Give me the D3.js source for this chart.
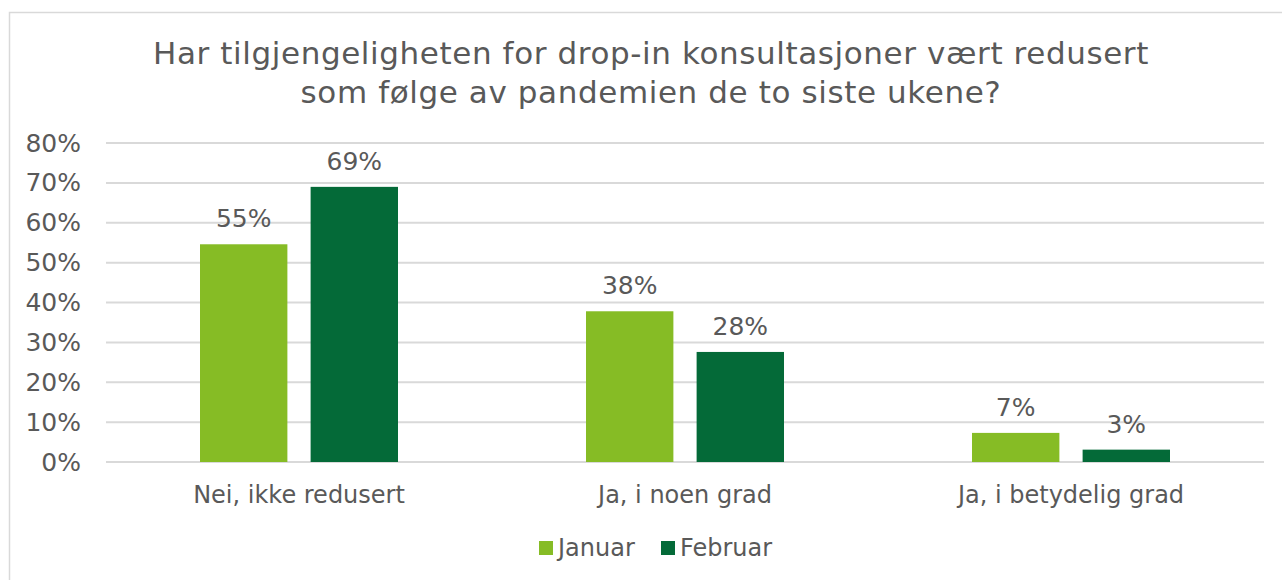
<!DOCTYPE html>
<html>
<head>
<meta charset="utf-8">
<script src="https://cdn.jsdelivr.net/npm/d3@7"></script>
<style>
  body { margin: 0; background: #fff; }
  svg text { font-family: "DejaVu Sans", Verdana, sans-serif; fill: #595959; }
</style>
</head>
<body>
<div id="chart"></div>
<script>
// values
const categories = ["Nei, ikke redusert", "Ja, i noen grad", "Ja, i betydelig grad"];
const seriesNames = ["Januar", "Februar"];
const januar = [54.6, 37.8, 7.3];
const februar = [69.0, 27.6, 3.1];
const labelsJan = ["55%", "38%", "7%"];
const labelsFeb = ["69%", "28%", "3%"];
const yTicks = [0, 10, 20, 30, 40, 50, 60, 70, 80];
const colors = ["#86bc25", "#046a38"];

const W = 1282, H = 580;
const margin = { top: 143, left: 106, right: 18, bottom: 118 };
const width = W - margin.left - margin.right;
const height = H - margin.top - margin.bottom;

const svg = d3.select("#chart").append("svg")
  .attr("width", W)
  .attr("height", H);

// outer chart border (runs off the right and bottom edge)
svg.append("rect")
  .attr("x", 9.5).attr("y", 12.5)
  .attr("width", 1300).attr("height", 600)
  .attr("fill", "none")
  .attr("stroke", "#d9d9d9")
  .attr("stroke-width", 1.5);

// title
const title = svg.append("text")
  .attr("text-anchor", "middle")
  .style("font-size", "31px")
  .style("letter-spacing", "0.6px");
title.append("tspan").attr("x", 651).attr("y", 64)
  .text("Har tilgjengeligheten for drop-in konsultasjoner vært redusert");
title.append("tspan").attr("x", 651).attr("y", 103)
  .text("som følge av pandemien de to siste ukene?");

const g = svg.append("g")
  .attr("transform", `translate(${margin.left}, ${margin.top})`);

const y = d3.scaleLinear().domain([0, 80]).range([height, 0]);
const x0 = d3.scaleBand().domain(categories).range([0, width]);
const x1 = d3.scaleBand().domain(seriesNames)
  .range([x0.bandwidth() / 2 - 99, x0.bandwidth() / 2 + 99])
  .paddingInner(0.21);

// gridlines
g.append("g")
  .selectAll("line")
  .data(yTicks)
  .enter()
  .append("line")
  .attr("x1", 0).attr("x2", width)
  .attr("y1", d => y(d)).attr("y2", d => y(d))
  .attr("stroke", "#d9d9d9")
  .attr("stroke-width", 2);

// y axis labels
const yAxis = g.append("g")
  .call(d3.axisLeft(y).tickValues(yTicks).tickFormat(d => d + "%").tickSize(0).tickPadding(25));
yAxis.select(".domain").remove();
yAxis.selectAll("text").style("font-size", "25px").attr("fill", "#595959");

const rows = categories.map((c, i) => ({
  cat: c,
  vals: [
    { s: "Januar", v: januar[i], label: labelsJan[i], color: colors[0] },
    { s: "Februar", v: februar[i], label: labelsFeb[i], color: colors[1] }
  ]
}));

const groups = g.selectAll(".grp")
  .data(rows)
  .enter()
  .append("g")
  .attr("class", "grp")
  .attr("transform", d => `translate(${x0(d.cat)}, 0)`);

groups.selectAll("rect")
  .data(d => d.vals)
  .enter()
  .append("rect")
  .attr("x", d => x1(d.s))
  .attr("width", x1.bandwidth())
  .attr("y", d => y(d.v))
  .attr("height", d => height - y(d.v))
  .attr("fill", d => d.color);

groups.selectAll(".lbl")
  .data(d => d.vals)
  .enter()
  .append("text")
  .attr("class", "lbl")
  .attr("text-anchor", "middle")
  .attr("x", d => x1(d.s) + x1.bandwidth() / 2)
  .attr("y", d => y(d.v) - 17)
  .style("font-size", "25px")
  .text(d => d.label);

// category labels
const xAxis = g.append("g")
  .attr("transform", `translate(0, ${height})`)
  .call(d3.axisBottom(x0).tickSize(0).tickPadding(0));
xAxis.select(".domain").remove();
xAxis.selectAll("text")
  .attr("dy", null)
  .attr("y", 41)
  .style("font-size", "24px")
  .attr("fill", "#595959");

// legend
const legend = svg.append("g");
const legendX = [539, 661];
seriesNames.forEach((s, i) => {
  legend.append("rect")
    .attr("x", legendX[i]).attr("y", 541)
    .attr("width", 14).attr("height", 14)
    .attr("fill", colors[i]);
  legend.append("text")
    .attr("x", legendX[i] + 19).attr("y", 556)
    .style("font-size", "24px")
    .text(s);
});
</script>
</body>
</html>
